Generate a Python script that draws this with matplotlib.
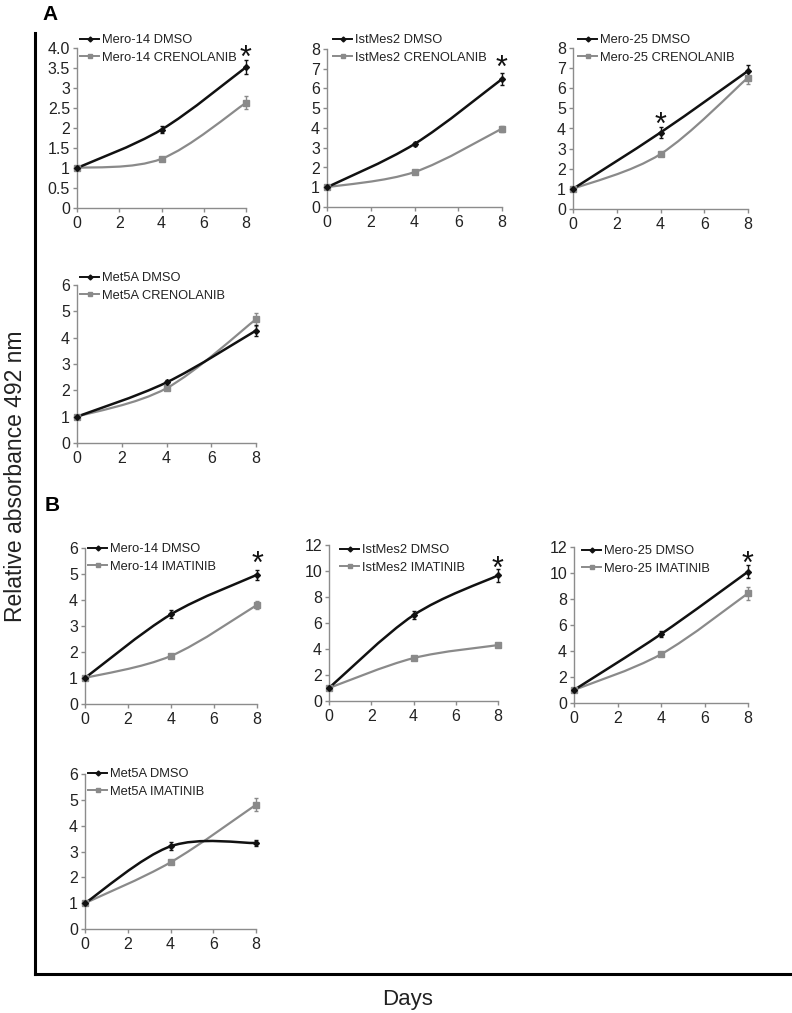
import matplotlib
matplotlib.use("Agg")
import matplotlib.pyplot as plt
from matplotlib.path import Path
from matplotlib.patches import PathPatch
from matplotlib.lines import Line2D

plt.rcParams['font.family'] = ['Liberation Sans', 'DejaVu Sans']

# ---------------- data ----------------
days = [0, 4, 8]

# Panel A (crenolanib)
mero14_dmso_A = [1.0, 1.96, 3.52]
mero14_dmso_A_err = [0.0, 0.08, 0.18]
mero14_creno = [1.0, 1.23, 2.63]
mero14_creno_err = [0.0, 0.04, 0.16]

istmes2_dmso_A = [1.0, 3.19, 6.48]
istmes2_dmso_A_err = [0.0, 0.12, 0.30]
istmes2_creno = [1.0, 1.77, 3.97]
istmes2_creno_err = [0.0, 0.08, 0.15]

mero25_dmso_A = [1.0, 3.80, 6.86]
mero25_dmso_A_err = [0.0, 0.25, 0.30]
mero25_creno = [1.0, 2.73, 6.53]
mero25_creno_err = [0.0, 0.08, 0.30]

met5a_dmso_A = [1.0, 2.30, 4.27]
met5a_dmso_A_err = [0.0, 0.10, 0.20]
met5a_creno = [1.0, 2.08, 4.70]
met5a_creno_err = [0.0, 0.06, 0.25]

# Panel B (imatinib)
mero14_dmso_B = [1.0, 3.45, 4.97]
mero14_dmso_B_err = [0.0, 0.15, 0.20]
mero14_imat = [1.0, 1.85, 3.81]
mero14_imat_err = [0.0, 0.06, 0.15]

istmes2_dmso_B = [1.0, 6.60, 9.66]
istmes2_dmso_B_err = [0.0, 0.30, 0.50]
istmes2_imat = [1.0, 3.30, 4.30]
istmes2_imat_err = [0.0, 0.10, 0.12]

mero25_dmso_B = [1.0, 5.30, 10.10]
mero25_dmso_B_err = [0.0, 0.25, 0.50]
mero25_imat = [1.0, 3.75, 8.44]
mero25_imat_err = [0.0, 0.10, 0.50]

met5a_dmso_B = [1.0, 3.20, 3.33]
met5a_dmso_B_err = [0.0, 0.15, 0.10]
met5a_imat = [1.0, 2.58, 4.81]
met5a_imat_err = [0.0, 0.08, 0.25]

# significance asterisk positions (day, value)
star_A1 = (8, 3.9)
star_A2 = (8, 7.34)
star_A3 = (4, 4.47)
star_B1 = (8, 5.6)
star_B2 = (8, 10.6)
star_B3 = (8, 11.15)

# tick labels
yticks_4 = [0, 0.5, 1, 1.5, 2, 2.5, 3, 3.5, 4.0]
yticklabels_4 = ['0', '0.5', '1', '1.5', '2', '2.5', '3', '3.5', '4.0']
yticks_8 = [0, 1, 2, 3, 4, 5, 6, 7, 8]
yticks_6 = [0, 1, 2, 3, 4, 5, 6]
yticks_12 = [0, 2, 4, 6, 8, 10, 12]
xticks = [0, 2, 4, 6, 8]

panels = [
    dict(box=(77, 246, 208, 48), ymax=4.0, yt=yticks_4, ytl=yticklabels_4,
         d=(mero14_dmso_A, mero14_dmso_A_err), t=(mero14_creno, mero14_creno_err),
         labels=('Mero-14 DMSO', 'Mero-14 CRENOLANIB'), star=star_A1, leg=(80, 34)),
    dict(box=(327, 502, 207, 49), ymax=8, yt=yticks_8, ytl=None,
         d=(istmes2_dmso_A, istmes2_dmso_A_err), t=(istmes2_creno, istmes2_creno_err),
         labels=('IstMes2 DMSO', 'IstMes2 CRENOLANIB'), star=star_A2, leg=(333, 34)),
    dict(box=(573, 748, 209, 48), ymax=8, yt=yticks_8, ytl=None,
         d=(mero25_dmso_A, mero25_dmso_A_err), t=(mero25_creno, mero25_creno_err),
         labels=('Mero-25 DMSO', 'Mero-25 CRENOLANIB'), star=star_A3, leg=(578, 34)),
    dict(box=(77, 256, 443, 285), ymax=6, yt=yticks_6, ytl=None,
         d=(met5a_dmso_A, met5a_dmso_A_err), t=(met5a_creno, met5a_creno_err),
         labels=('Met5A DMSO', 'Met5A CRENOLANIB'), star=None, leg=(80, 272)),
    dict(box=(85, 257, 704, 548), ymax=6, yt=yticks_6, ytl=None,
         d=(mero14_dmso_B, mero14_dmso_B_err), t=(mero14_imat, mero14_imat_err),
         labels=('Mero-14 DMSO', 'Mero-14 IMATINIB'), star=star_B1, leg=(88, 543)),
    dict(box=(329, 498, 701, 545), ymax=12, yt=yticks_12, ytl=None,
         d=(istmes2_dmso_B, istmes2_dmso_B_err), t=(istmes2_imat, istmes2_imat_err),
         labels=('IstMes2 DMSO', 'IstMes2 IMATINIB'), star=star_B2, leg=(340, 544)),
    dict(box=(574, 748, 703, 547), ymax=12, yt=yticks_12, ytl=None,
         d=(mero25_dmso_B, mero25_dmso_B_err), t=(mero25_imat, mero25_imat_err),
         labels=('Mero-25 DMSO', 'Mero-25 IMATINIB'), star=star_B3, leg=(582, 545)),
    dict(box=(85, 256, 929, 774), ymax=6, yt=yticks_6, ytl=None,
         d=(met5a_dmso_B, met5a_dmso_B_err), t=(met5a_imat, met5a_imat_err),
         labels=('Met5A DMSO', 'Met5A IMATINIB'), star=None, leg=(88, 768)),
]

W, H = 792, 1013
fig = plt.figure(figsize=(W / 100, H / 100), dpi=100)

DARK = '#111111'
GRAY = '#8a8a8a'
SPINE = '#8c8c8c'
TXT = '#222222'


def smooth_path(x, y):
    pts = list(zip(x, y))
    n = len(pts)
    verts = [pts[0]]
    codes = [Path.MOVETO]
    for i in range(n - 1):
        p0 = pts[i - 1] if i > 0 else pts[i]
        p1 = pts[i]
        p2 = pts[i + 1]
        p3 = pts[i + 2] if i + 2 < n else pts[i + 1]
        c1 = (p1[0] + (p2[0] - p0[0]) / 6.0, p1[1] + (p2[1] - p0[1]) / 6.0)
        c2 = (p2[0] - (p3[0] - p1[0]) / 6.0, p2[1] - (p3[1] - p1[1]) / 6.0)
        verts += [c1, c2, p2]
        codes += [Path.CURVE4] * 3
    return Path(verts, codes)


for p in panels:
    l, r, b, t = p['box']
    ax = fig.add_axes([l / W, 1 - b / H, (r - l) / W, (b - t) / H])
    ax.set_xlim(0, 8)
    ax.set_ylim(0, p['ymax'])
    for s in ['top', 'right']:
        ax.spines[s].set_visible(False)
    for s in ['left', 'bottom']:
        ax.spines[s].set_color(SPINE)
        ax.spines[s].set_linewidth(1.0)
    ax.set_xticks(xticks)
    ax.set_yticks(p['yt'])
    if p['ytl'] is not None:
        ax.set_yticklabels(p['ytl'])
    ax.tick_params(axis='both', colors=SPINE, labelcolor=TXT, labelsize=11.5,
                   length=3, width=1, direction='out', pad=2)
    ax.tick_params(axis='x', pad=3)
    ax.patch.set_alpha(0)

    (dv, de), (tv, te) = p['d'], p['t']
    for vals, errs, col, mk, ms, lw in [(tv, te, GRAY, 's', 4.5, 1.6),
                                        (dv, de, DARK, 'D', 3.0, 1.8)]:
        ax.add_patch(PathPatch(smooth_path(days, vals), facecolor='none',
                               edgecolor=col, lw=lw, transform=ax.transData,
                               clip_on=False, zorder=3))
        ax.errorbar(days, vals, yerr=errs, fmt='none', ecolor=col, elinewidth=1.0,
                    capsize=1.5, capthick=1.0, zorder=4, clip_on=False)
        ax.plot(days, vals, linestyle='none', marker=mk, ms=ms, color=col,
                mec=col, zorder=5, clip_on=False)

    handles = [Line2D([], [], color=DARK, lw=1.4, marker='D', ms=2.5),
               Line2D([], [], color=GRAY, lw=1.4, marker='s', ms=3.5)]
    lx, ly = p['leg']
    ax.legend(handles, list(p['labels']), loc='upper left',
              bbox_to_anchor=(lx / W, 1 - ly / H), bbox_transform=fig.transFigure,
              frameon=False, fontsize=9.3, handlelength=1.5, handletextpad=0.2,
              labelspacing=0.45, borderpad=0, borderaxespad=0, labelcolor=TXT)

    if p['star'] is not None:
        sx, sy = p['star']
        ax.annotate('*', xy=(sx, sy), xytext=(0, -5), textcoords='offset points',
                    ha='center', va='center', fontsize=22, color=DARK,
                    annotation_clip=False, zorder=6)

# big L frame
fig.add_artist(Line2D([35 / W, 35 / W], [1 - 33 / H, 1 - 974 / H],
                      color='black', lw=2.2, transform=fig.transFigure))
fig.add_artist(Line2D([35 / W, 1.0], [1 - 974 / H, 1 - 974 / H],
                      color='black', lw=2.2, transform=fig.transFigure))

fig.text(50 / W, 1 - 14 / H, 'A', fontsize=15, fontweight='bold', ha='center', va='center')
fig.text(52 / W, 1 - 505 / H, 'B', fontsize=15, fontweight='bold', ha='center', va='center')
fig.text(16 / W, 1 - 476 / H, 'Relative absorbance 492 nm', rotation=90,
         fontsize=16.5, ha='center', va='center', color=TXT)
fig.text(408 / W, 1 - 999 / H, 'Days', fontsize=16, ha='center', va='center', color=TXT)

fig.savefig('out.png', dpi=100)
